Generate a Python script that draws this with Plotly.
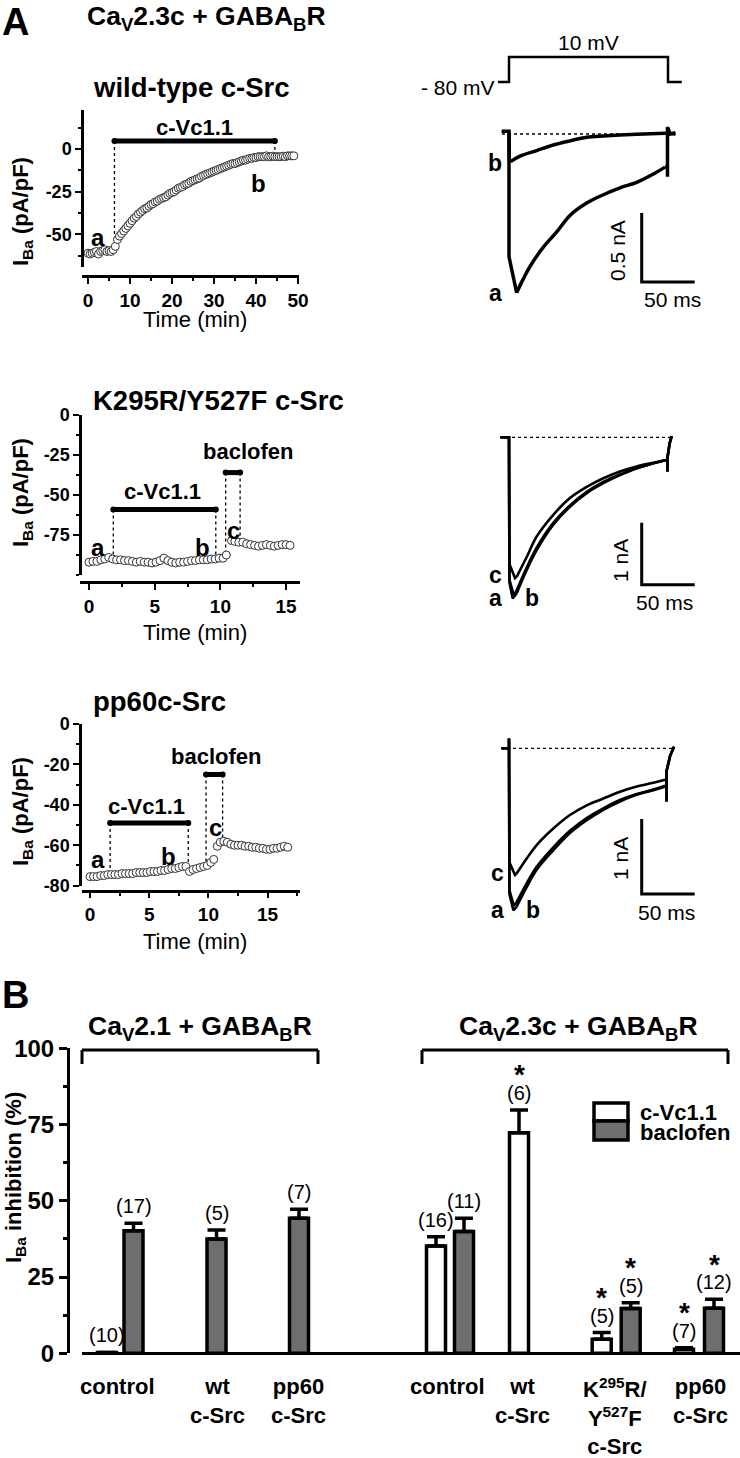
import plotly.graph_objects as go

W, H = 740, 1458
FONT = "Liberation Sans, Arial, sans-serif"
GREY = "#6e6e6e"

# ===================== DATA =====================
# Panel A - time courses of I_Ba (pA/pF) versus time (min)
wt_time = [0, 0.5, 1, 1.5, 2, 2.5, 3, 3.5, 4, 4.5,
           5, 5.5, 6, 6.5, 7, 7.5, 8, 8.5, 9, 9.5,
           10, 10.5, 11, 11.5, 12, 12.5, 13, 13.5, 14, 14.5,
           15, 15.5, 16, 16.5, 17, 17.5, 18, 18.5, 19, 19.5,
           20, 20.5, 21, 21.5, 22, 22.5, 23, 23.5, 24, 24.5,
           25, 25.5, 26, 26.5, 27, 27.5, 28, 28.5, 29, 29.5,
           30, 30.5, 31, 31.5, 32, 32.5, 33, 33.5, 34, 34.5,
           35, 35.5, 36, 36.5, 37, 37.5, 38, 38.5, 39, 39.5,
           40, 40.5, 41, 41.5, 42, 42.5, 43, 43.5, 44, 44.5,
           45, 45.5, 46, 46.5, 47, 47.5, 48, 48.5, 49]
wt_iba = [-61, -61.5, -61, -60.5, -60, -61.5, -60, -59.5, -59, -60,
          -59.5, -60, -59, -57, -53, -51, -49.5, -48, -46.5, -45,
          -43.5, -42, -40.5, -39.5, -38, -37, -36, -35, -34.5, -33.5,
          -32.5, -32, -31, -30.5, -29.5, -29, -28.5, -28, -27, -26,
          -25.5, -25, -24, -23, -22.5, -22, -21, -20.5, -20, -19,
          -18.5, -18, -17.5, -17, -16, -15.5, -15, -14.5, -14, -13.5,
          -13, -12.5, -12, -11.5, -11, -10.5, -10, -9.5, -9, -8.5,
          -8.5, -8, -7.5, -7, -6.5, -6.5, -6, -5.5, -5.5, -5,
          -5, -4.5, -4.5, -4.5, -4.5, -4, -4.5, -4.5, -4.2, -4.5,
          -4.5, -4.5, -4.5, -4.2, -4.5, -4, -4, -4, -4]
wt_vc11_window = [6.3, 44.5]
wt_vc11_level = 4.7
wt_vc11_drop = [-57, -4.5]

k_time = [0, 0.3, 0.6, 0.9, 1.2, 1.5, 1.8, 2.1, 2.4, 2.7, 3.0, 3.3, 3.6, 3.9,
          4.2, 4.5, 4.8, 5.1, 5.4, 5.7, 6.0, 6.3, 6.6, 6.9, 7.2, 7.5, 7.8, 8.1,
          8.4, 8.7, 9.0, 9.3, 9.6, 9.9, 10.2, 10.45, 10.85, 11.1, 11.4, 11.7,
          12.0, 12.3, 12.6, 12.9, 13.2, 13.5, 13.8, 14.1, 14.4, 14.7, 15.0, 15.3]
k_iba = [-92, -91.5, -91.5, -90.5, -90, -89, -90, -90.5, -90.5, -91,
         -91, -91.5, -92, -91.5, -92, -92, -92.5, -92, -91, -89.5,
         -91, -92, -92.5, -92, -92, -91.5, -91, -91, -90.5, -90.5,
         -90.5, -90, -90, -89.5, -89.5, -87.5, -78.5,
         -79, -79.5, -79.5, -80.5, -81, -81.5, -82, -81.5, -81, -81.5,
         -82, -81.5, -81, -81, -81.5]
k_vc11_window = [1.85, 9.65]
k_vc11_level = -59
k_vc11_drop = [-90.5, -89.5]
k_bac_window = [10.4, 11.5]
k_bac_level = -36
k_bac_drop = [-89, -78]

p_time = [0, 0.3, 0.6, 0.9, 1.2, 1.5, 1.8, 2.1, 2.4, 2.7, 3.0, 3.3, 3.6, 3.9,
          4.2, 4.5, 4.8, 5.1, 5.4, 5.7, 6.0, 6.3, 6.6, 6.9, 7.2, 7.5, 7.8, 8.1,
          8.4, 8.7, 9.0, 9.3, 9.6, 9.9, 10.2, 10.45, 10.75, 11.0,
          11.3, 11.6, 11.9, 12.2, 12.5, 12.8, 13.1, 13.4, 13.7, 14.0, 14.3,
          14.6, 14.9, 15.2, 15.5, 15.8, 16.1, 16.4, 16.7]
p_iba = [-75.5, -75.5, -75.5, -75, -75, -74.5, -74.5, -74.5, -74.5, -74,
         -74, -74, -74, -73.5, -73.5, -73.5, -73.5, -73, -73, -73,
         -72.5, -72.5, -72, -71.5, -71.5, -71, -70.5, -70.5,
         -73, -72, -71.5, -71, -70.5, -70, -68.5,
         -67, -60.5, -58.5,
         -58, -58.5, -59.5, -60, -60, -60, -60.5, -60.5, -61, -61, -61.5,
         -61.5, -62, -62, -61.5, -61.5, -61, -60.5, -61]
p_vc11_window = [1.7, 8.3]
p_vc11_level = -49
p_vc11_drop = [-74.5, -71]
p_bac_window = [9.8, 11.2]
p_bac_level = -25
p_bac_drop = [-68, -57]

# Voltage protocol (ms, mV)
step_time = [-10.4, 0, 0, 150, 150, 163]
step_mv = [-80, -80, 10, 10, -80, -80]

# Current traces (ms, nA): decay phases
decay_t = [7.2, 16.7, 26.1, 41.8, 57.5, 73.3, 89, 104.7, 120.5, 136.2, 147.2]
r1_a_t = [7.2, 13.5, 19.8, 32.4, 45, 57.5, 73.3, 89, 104.7, 120.5, 136.2, 147.2]
r1_a_i = [-1.15, -1.05, -0.96, -0.82, -0.71, -0.59, -0.50, -0.44, -0.39, -0.35, -0.29, -0.24]
r1_b_t = [1.5, 10.4, 26.1, 41.8, 57.5, 73.3, 89, 104.7, 120.5, 147.2]
r1_b_i = [-0.20, -0.16, -0.12, -0.08, -0.05, -0.024, -0.014, -0.007, -0.002, 0.005]

r2_a_i = [-2.52, -2.14, -1.82, -1.41, -1.12, -0.90, -0.74, -0.61, -0.50, -0.42, -0.37]
r2_b_i = [-2.47, -2.10, -1.78, -1.38, -1.10, -0.88, -0.72, -0.60, -0.50, -0.42, -0.37]
r2_c_i = [-2.25, -1.93, -1.60, -1.25, -0.98, -0.80, -0.66, -0.55, -0.47, -0.41, -0.37]
r2_peaks = {"a": (3.5, -2.6), "b": (4.5, -2.55), "c": (5.7, -2.27)}

r3_a_i = [-2.11, -1.85, -1.62, -1.36, -1.13, -0.96, -0.82, -0.71, -0.62, -0.56, -0.51]
r3_b_i = [-2.05, -1.80, -1.58, -1.32, -1.10, -0.93, -0.80, -0.69, -0.61, -0.55, -0.50]
r3_c_i = [-1.67, -1.47, -1.29, -1.07, -0.89, -0.76, -0.67, -0.58, -0.51, -0.46, -0.42]
r3_peaks = {"a": (4.1, -2.16), "b": (4.5, -2.10), "c": (5.7, -1.69)}

scale_ms = 50
scale_na = [0.5, 1, 1]

# Panel B - % inhibition of I_Ba
cav21_groups = ["control", "wt<br>c-Src", "pp60<br>c-Src"]
cav21_vc11 = [0.3, None, None]
cav21_vc11_sem = [0, None, None]
cav21_vc11_n = ["(10)", None, None]
cav21_bac = [40.2, 37.5, 44.3]
cav21_bac_sem = [2.4, 2.9, 2.9]
cav21_bac_n = ["(17)", "(5)", "(7)"]

cav23_groups = ["control", "wt<br>c-Src",
                "K<sup>295</sup>R/<br>Y<sup>527</sup>F<br>c-Src", "pp60<br>c-Src"]
cav23_vc11 = [35.2, 72.3, 4.6, 1.3]
cav23_vc11_sem = [3.0, 7.5, 2.2, 0.5]
cav23_vc11_n = ["(16)", "(6)", "(5)", "(7)"]
cav23_vc11_sig = [False, True, True, True]
cav23_bac = [39.9, None, 14.7, 14.8]
cav23_bac_sem = [4.4, None, 1.9, 2.9]
cav23_bac_n = ["(11)", None, "(5)", "(12)"]
cav23_bac_sig = [False, None, True, True]

# ===================== LAYOUT HELPERS =====================
def xp(px):
    return px / W


def yp(py):
    return 1 - py / H


AX = {"wt": "", "k": "2", "pp": "3", "r1": "4", "v1": "5", "r2": "6", "r3": "7", "bar": "8"}
traces, ann, shapes = [], [], []
layout = dict(width=W, height=H, margin=dict(l=0, r=0, t=0, b=0, pad=0),
              paper_bgcolor="white", plot_bgcolor="white", showlegend=False,
              barmode="overlay", template="none")


def text(x, y, s, size, bold=False, xref="paper", yref="paper", xanchor="center",
         yanchor="middle", angle=0, xshift=0, yshift=0):
    ann.append(dict(x=x, y=y, xref=xref, yref=yref, text=(f"<b>{s}</b>" if bold else s),
                    showarrow=False, xanchor=xanchor, yanchor=yanchor, textangle=angle,
                    xshift=xshift, yshift=yshift,
                    font=dict(family=FONT, size=size, color="black")))


def line(k, x, y, width=2.5, dash=None, shape="linear", mode="lines", msize=0):
    traces.append(go.Scatter(x=x, y=y, mode=mode, xaxis="x" + AX[k], yaxis="y" + AX[k],
                             line=dict(color="black", width=width, dash=dash, shape=shape),
                             marker=dict(size=msize, color="black"), hoverinfo="skip",
                             cliponaxis=False))


AXLINE = dict(showline=True, linewidth=2.5, linecolor="black", ticks="outside",
              ticklen=6, tickwidth=2, tickcolor="black", showgrid=False, zeroline=False)


def ts_axes(k, xdom, ydom, x0px, xscale, y0py, yscale, xaxis_py, yaxis_px,
            xticks, xminor, yticks, yminor):
    layout["xaxis" + AX[k]] = dict(
        domain=[xp(xdom[0]), xp(xdom[1])],
        range=[(xdom[0] - x0px) / xscale, (xdom[1] - x0px) / xscale],
        anchor="free", position=yp(xaxis_py), tickmode="array", tickvals=xticks,
        ticktext=[str(v) for v in xticks],
        minor=dict(dtick=xminor, tick0=0, ticks="outside", ticklen=3.5, tickwidth=2,
                   tickcolor="black"),
        tickfont=dict(family=FONT, size=19, color="black", weight="bold"), **AXLINE)
    layout["yaxis" + AX[k]] = dict(
        domain=[yp(ydom[1]), yp(ydom[0])],
        range=[(y0py - ydom[1]) / yscale, (y0py - ydom[0]) / yscale],
        anchor="free", position=xp(yaxis_px), tickmode="array", tickvals=yticks,
        ticktext=[str(v) for v in yticks],
        minor=dict(dtick=yminor, tick0=0, ticks="outside", ticklen=3.5, tickwidth=2,
                   tickcolor="black"),
        tickfont=dict(family=FONT, size=18, color="black", weight="bold"), **AXLINE)


def hidden_axes(k, xdom, ydom, x0px, xscale, y0py, yscale):
    layout["xaxis" + AX[k]] = dict(domain=[xp(xdom[0]), xp(xdom[1])],
                                   range=[(xdom[0] - x0px) / xscale, (xdom[1] - x0px) / xscale],
                                   visible=False, anchor="y" + AX[k])
    layout["yaxis" + AX[k]] = dict(domain=[yp(ydom[1]), yp(ydom[0])],
                                   range=[(y0py - ydom[1]) / yscale, (y0py - ydom[0]) / yscale],
                                   visible=False, anchor="x" + AX[k])


# ===================== PANEL A : time courses =====================
ts_axes("wt", (82, 299), (110, 267), 88, 4.2, 149, 1.708, 276, 82,
        [0, 10, 20, 30, 40, 50], 5, [0, -25, -50], 12.5)
ts_axes("k", (80, 300), (415, 575), 89, 13.14, 415, 1.6, 582, 80,
        [0, 5, 10, 15], 2.5, [0, -25, -50, -75], 12.5)
ts_axes("pp", (81.7, 300), (724, 885.7), 90, 11.84, 724, 2.021, 890.7, 80,
        [0, 5, 10, 15], 2.5, [0, -20, -40, -60, -80], 10)


def application(k, window, level, drop):
    for t, d in zip(window, drop):
        line(k, [t, t], [level, d], width=1.3, dash="dot")
    line(k, window, [level, level], width=5, mode="lines+markers", msize=6)


def timecourse(k, t, v):
    traces.append(go.Scatter(x=t, y=v, mode="markers", xaxis="x" + AX[k], yaxis="y" + AX[k],
                             marker=dict(symbol="circle", size=8, color="white",
                                         line=dict(color="#333333", width=1)),
                             hoverinfo="skip", cliponaxis=False))


application("wt", wt_vc11_window, wt_vc11_level, wt_vc11_drop)
timecourse("wt", wt_time, wt_iba)
application("k", k_vc11_window, k_vc11_level, k_vc11_drop)
application("k", k_bac_window, k_bac_level, k_bac_drop)
timecourse("k", k_time, k_iba)
application("pp", p_vc11_window, p_vc11_level, p_vc11_drop)
application("pp", p_bac_window, p_bac_level, p_bac_drop)
timecourse("pp", p_time, p_iba)

# labels in panel A time courses
for k, items in {
    "wt": [("a", 2.4, -52), ("b", 40.5, -20), ("c-Vc1.1", 25.3, 12.3)],
    "k": [("a", 0.7, -83), ("b", 8.6, -83), ("c", 11.0, -72), ("c-Vc1.1", 5.6, -48),
          ("baclofen", 12.1, -23)],
    "pp": [("a", 0.7, -66.8), ("b", 6.6, -65.8), ("c", 10.56, -51), ("c-Vc1.1", 4.8, -41),
           ("baclofen", 10.6, -16.3)],
}.items():
    for s, x, y in items:
        text(x, y, s, 24 if len(s) == 1 else 22, bold=True, xref="x" + AX[k], yref="y" + AX[k])

# panel titles and axis titles
text(xp(0), yp(22), "A", 38, bold=True, xanchor="left")
text(xp(85), yp(18), "Ca<sub>V</sub>2.3c + GABA<sub>B</sub>R", 26.5, bold=True, xanchor="left")
text(xp(91), yp(88), "wild-type c-Src", 27.5, bold=True, xanchor="left")
text(xp(91), yp(400), "K295R/Y527F c-Src", 27.5, bold=True, xanchor="left")
text(xp(91), yp(702), "pp60c-Src", 27.5, bold=True, xanchor="left")
for cy in (212, 493, 812):
    text(xp(22), yp(cy), "I<sub>Ba</sub> (pA/pF)", 22, bold=True, angle=-90)
for cy in (320, 632, 942):
    text(xp(195), yp(cy), "Time (min)", 22)

# ===================== PANEL A : current traces =====================
hidden_axes("r1", (400, 740), (100, 320), 509, 1.06, 134, 138)
hidden_axes("v1", (400, 740), (25, 100), 509, 1.06, 82 - 80 * 0.2778, 0.2778)
hidden_axes("r2", (400, 740), (340, 630), 509, 1.06, 437.3, 62)
hidden_axes("r3", (400, 740), (640, 940), 509, 1.06, 748.3, 75)

# voltage protocol
line("v1", step_time, step_mv, width=2.5)
text(-11.5, -80, "- 80 mV", 21, xref="x5", yref="y5", xanchor="right", yshift=-5)
text(75, 10, "10 mV", 21, xref="x5", yref="y5", yshift=15)


def current(k, onset_t, onset_i, dt, di, off_t, off_i, width):
    line(k, onset_t + [dt[0]], onset_i + [di[0]], width=width)
    line(k, dt, di, width=width, shape="spline")
    line(k, [dt[-1]] + off_t, [di[-1]] + off_i, width=width)


# R1 (wild-type c-Src)
line("r1", [-6.6, 156.6], [0, 0], width=1.3, dash="dot")
current("r1", [-7, 0, 0], [0.02, 0.02, -0.89], r1_a_t, r1_a_i,
        [149.5, 149.5, 149.5, 152, 157], [-0.24, -0.31, 0.05, 0.0, 0.01], 3.5)
current("r1", [0, 0.3], [0.01, -0.19], r1_b_t, r1_b_i, [152, 157], [0.0, 0.0], 3.5)

# R2 (K295R/Y527F)
line("r2", [-8.5, 154.7], [0, 0], width=1.3, dash="dot")
for name, di in (("a", r2_a_i), ("b", r2_b_i), ("c", r2_c_i)):
    pt, pi = r2_peaks[name]
    current("r2", [-8, 0, 0.4, pt], [0, 0, pi * 0.9, pi], decay_t, di,
            [149.5, 149.5, 149.5, 151.5, 153.5], [-0.37, -0.55, -0.33, -0.1, 0.02], 2.6)

# R3 (pp60c-Src)
line("r3", [-7.5, 155.7], [0, 0], width=1.3, dash="dot")
for name, di in (("a", r3_a_i), ("b", r3_b_i), ("c", r3_c_i)):
    pt, pi = r3_peaks[name]
    current("r3", [-7, 0, 0, 0.4, pt], [0, 0, 0.13, pi * 0.9, pi], decay_t, di,
            [148.7, 148.7, 148.7, 152, 155.7], [di[-1], -0.71, -0.3, -0.1, 0.02], 2.6)

# scale bars
for k, na, y0 in (("r1", scale_na[0], -1.072), ("r2", scale_na[1], -2.38), ("r3", scale_na[2], -1.943)):
    line(k, [125.2, 125.2, 125.2 + scale_ms], [y0 + na, y0, y0], width=3)
text(102.8, -0.84, "0.5 nA", 21, xref="x4", yref="y4", angle=-90)
text(153.8, -1.20, "50 ms", 21, xref="x4", yref="y4")
text(104.7, -1.98, "1 nA", 21, xref="x6", yref="y6", angle=-90)
text(147, -2.66, "50 ms", 21, xref="x6", yref="y6")
text(104.7, -1.463, "1 nA", 21, xref="x7", yref="y7", angle=-90)
text(149, -2.196, "50 ms", 21, xref="x7", yref="y7")

for k, items in {
    "r1": [("b", -13.2, -0.21), ("a", -13.2, -1.152)],
    "r2": [("c", -13.2, -2.22), ("a", -13.2, -2.59), ("b", 21.7, -2.59)],
    "r3": [("c", -11.3, -1.663), ("a", -11.3, -2.156), ("b", 22.6, -2.156)],
}.items():
    for s, x, y in items:
        text(x, y, s, 23, bold=True, xref="x" + AX[k], yref="y" + AX[k])

# ===================== PANEL B : bar chart =====================
slot_label_x = [117, 217, 298, 447, 522, 615, 700]
vc11_slot_x = [107, None, None, 436, 519, 601.7, 684]
bac_slot_x = [133.5, 216.5, 299, 464, None, 630.7, 714]

layout["xaxis8"] = dict(domain=[xp(82), 1], range=[82, 740], anchor="free",
                        position=yp(1353.3), showline=True, linewidth=3, linecolor="black",
                        ticks="", showticklabels=False, showgrid=False, zeroline=False)
layout["yaxis8"] = dict(domain=[yp(1353.3), yp(1048.3)], range=[0, 100], anchor="free",
                        position=xp(68), tickmode="array", tickvals=[0, 25, 50, 75, 100],
                        ticktext=["0", "25", "50", "75", "100"], showline=True, linewidth=3,
                        linecolor="black", ticks="outside", ticklen=8, tickwidth=2.5,
                        tickcolor="black", showgrid=False, zeroline=False,
                        minor=dict(dtick=12.5, tick0=0, ticks="outside", ticklen=4.5,
                                   tickwidth=2.5, tickcolor="black"),
                        tickfont=dict(family=FONT, size=24, color="black", weight="bold"))

vc11_vals = cav21_vc11 + cav23_vc11
vc11_sem = cav21_vc11_sem + cav23_vc11_sem
vc11_n = cav21_vc11_n + cav23_vc11_n
vc11_sig = [False] * 3 + cav23_vc11_sig
bac_vals = cav21_bac + cav23_bac
bac_sem = cav21_bac_sem + cav23_bac_sem
bac_n = cav21_bac_n + cav23_bac_n
bac_sig = [False] * 3 + cav23_bac_sig


def bars(slots, vals, sems, ns, sigs, color):
    idx = [i for i, v in enumerate(vals) if v is not None]
    xs = [slots[i] for i in idx]
    ys = [vals[i] for i in idx]
    es = [sems[i] for i in idx]
    traces.append(go.Bar(x=xs, y=ys, width=19, xaxis="x8", yaxis="y8",
                         marker=dict(color=color, line=dict(color="black", width=3.5)),
                         error_y=dict(type="data", symmetric=False, array=es,
                                      arrayminus=[0] * len(es), color="black",
                                      thickness=3.5, width=9, visible=True),
                         hoverinfo="skip"))
    for i in idx:
        top = vals[i] + sems[i]
        text(slots[i], top, ns[i], 20, xref="x8", yref="y8", yshift=17)
        if sigs[i]:
            text(slots[i], top, "*", 28, bold=True, xref="x8", yref="y8", yshift=35)


bars(vc11_slot_x, vc11_vals, vc11_sem, vc11_n, vc11_sig, "white")
bars(bac_slot_x, bac_vals, bac_sem, bac_n, bac_sig, GREY)

for x, s in zip(slot_label_x, cav21_groups + cav23_groups):
    text(x, yp(1372), s, 22, bold=True, xref="x8", xanchor="center", yanchor="top")

text(xp(0), yp(995), "B", 38, bold=True, xanchor="left")
text(xp(200), yp(1028), "Ca<sub>V</sub>2.1 + GABA<sub>B</sub>R", 26.5, bold=True)
text(xp(578), yp(1028), "Ca<sub>V</sub>2.3c + GABA<sub>B</sub>R", 26.5, bold=True)
text(xp(15), yp(1178), "I<sub>Ba</sub> inhibition (%)", 22, bold=True, angle=-90)

# brackets
for x0, x1 in ((82, 318), (422, 728)):
    for (ax, ay, bx, by) in ((x0, 1064, x0, 1050), (x0, 1050, x1, 1050), (x1, 1050, x1, 1064)):
        shapes.append(dict(type="line", xref="paper", yref="paper", x0=xp(ax), y0=yp(ay),
                           x1=xp(bx), y1=yp(by), line=dict(color="black", width=3)))

# legend
for (ytop, ybot, col) in ((1103, 1121, "white"), (1121, 1140, GREY)):
    shapes.append(dict(type="rect", xref="paper", yref="paper", x0=xp(594), x1=xp(628),
                       y0=yp(ybot), y1=yp(ytop), fillcolor=col,
                       line=dict(color="black", width=3.5)))
text(xp(638), yp(1112), "c-Vc1.1", 22, bold=True, xanchor="left")
text(xp(638), yp(1132), "baclofen", 22, bold=True, xanchor="left")

layout["annotations"] = ann
layout["shapes"] = shapes
fig = go.Figure(data=traces, layout=layout)
fig.write_html("out.html", config={"displayModeBar": False},
               post_script="document.body.style.margin='0';document.body.style.overflow='hidden';")
